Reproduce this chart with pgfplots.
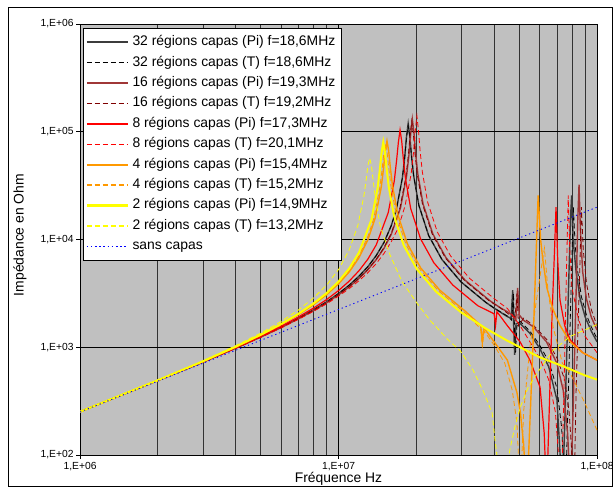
\documentclass[border=0pt]{standalone}
\usepackage{fontspec}
\setmainfont{Liberation Sans}
\usepackage{pgfplots}
\pgfplotsset{compat=1.18}
\definecolor{xlgray}{RGB}{192,192,192}
\definecolor{pi32}{RGB}{60,60,60}
\definecolor{pi16}{RGB}{160,55,55}
\definecolor{xldarkred}{RGB}{128,0,0}
\definecolor{xlred}{RGB}{255,0,0}
\definecolor{xlorange}{RGB}{255,153,0}
\definecolor{xlyellow}{RGB}{255,255,0}
\definecolor{xlblue}{RGB}{0,0,255}
\pgfplotsset{
  s32pi/.style={draw=pi32, line width=1.4bp},
  s32t/.style={draw=black, line width=0.8bp, dash pattern=on 5bp off 3bp},
  s16pi/.style={draw=pi16, line width=1.4bp},
  s16t/.style={draw=xldarkred, line width=0.8bp, dash pattern=on 5bp off 3bp},
  s8pi/.style={draw=xlred, line width=1.2bp},
  s8t/.style={draw=xlred, line width=0.8bp, dash pattern=on 5bp off 3bp},
  s4pi/.style={draw=xlorange, line width=1.4bp},
  s4t/.style={draw=xlorange, line width=0.8bp, dash pattern=on 5bp off 3bp},
  s2pi/.style={draw=xlyellow, line width=2bp},
  s2t/.style={draw=xlyellow, line width=0.8bp, dash pattern=on 5bp off 3bp},
  s0/.style={draw=xlblue, line width=0.9bp, dash pattern=on 1.2bp off 3bp},
}
\begin{document}
\begin{tikzpicture}
\path[use as bounding box] (0,0) rectangle (615bp,490bp);
\draw[black, line width=0.8bp] (8bp,4bp) rectangle (612bp,483bp);
\begin{axis}[
  at={(80bp,35bp)}, anchor=south west,
  scale only axis, width=517bp, height=431bp,
  xmode=log, ymode=log,
  xmin=1e6, xmax=1e8, ymin=1e2, ymax=1e6,
  axis background/.style={fill=xlgray},
  axis line style={black, line width=0.9bp},
  xtick={1e6,1e7,1e8},
  xticklabels={{1,E+06},{1,E+07},{1,E+08}},
  minor xtick={2e6,3e6,4e6,5e6,6e6,7e6,8e6,9e6,2e7,3e7,4e7,5e7,6e7,7e7,8e7,9e7},
  ytick={1e2,1e3,1e4,1e5,1e6},
  yticklabels={{1,E+02},{1,E+03},{1,E+04},{1,E+05},{1,E+06}},
  minor ytick={},
  xmajorgrids, xminorgrids, ymajorgrids,
  major grid style={black, line width=0.8bp},
  minor grid style={black!80, line width=0.8bp},
  tick pos=left, tick align=outside,
  major tick length=4bp, minor tick length=0pt,
  tick style={black, line width=0.8bp},
  ticklabel style={font=\fontsize{10.3bp}{12bp}\selectfont},
  yticklabel style={xshift=1bp},
  xlabel={Fréquence Hz},
  ylabel={Impédance en Ohm},
  label style={font=\fontsize{13.9bp}{16bp}\selectfont},
  xlabel style={at={(axis description cs:0.5,0)}, anchor=base, yshift=-28bp},
  ylabel style={at={(axis description cs:-0.116,0.5104)}, anchor=center},
  legend cell align=left,
  legend image code/.code={\path (0bp,0bp) -- (41bp,0bp); \draw[#1] (8bp,0bp) -- (40bp,0bp);},
  legend style={at={(axis description cs:0.0058,0.9907)}, anchor=north west,
    draw=black, line width=0.6bp, fill=white,
    inner xsep=2.5bp, inner ysep=3.8bp,
    font=\fontsize{13.9bp}{16bp}\selectfont, row sep=0pt,
    nodes={inner xsep=3.5bp, inner ysep=3.7bp, text height=10bp, text depth=3bp}},
]
% 32 regions (Pi)
\addplot[s32pi, forget plot] coordinates {
(1e6,252) (2e6,491) (3e6,731) (4e6,984) (5e6,1250) (6e6,1538) (7e6,1858) (8e6,2223) (9e6,2642) (1e7,3148)
(1.1e7,3767) (1.2e7,4560) (1.3e7,5610) (1.4e7,7112) (1.5e7,9397) (1.6e7,13460) (1.674e7,19010) (1.767e7,37500)
(1.804e7,58210) (1.832e7,89740) (1.86e7,119100) (1.888e7,90160) (1.916e7,59290) (1.953e7,39080) (2.046e7,20700)
(2.232e7,10890) (2.511e7,6531) (2.976e7,4046) (3.72e7,2600) (4e7,2307) (4.5e7,1923) (4.65e7,1862) (4.72e7,3388)
(4.76e7,1585) (4.8e7,851) (4.86e7,1660) (5.04e7,1660) (5.5e7,1349) (6e7,977) (6.5e7,661) (7e7,324) (7.2e7,100)
(7.35e7,40) (7.55e7,316) (7.75e7,3162) (7.9e7,15850) (7.98e7,25700) (8.08e7,10000) (8.3e7,5012) (8.6e7,2818)
(9e7,1905) (9.5e7,1413) (1e8,1122)};
% 32 regions (T)
\addplot[s32t, forget plot] coordinates {
(1e6,252) (2e6,491) (3e6,731) (4e6,984) (5e6,1250) (6e6,1538) (7e6,1858) (8e6,2223) (9e6,2642) (1e7,3148)
(1.1e7,3767) (1.2e7,4560) (1.3e7,5610) (1.4e7,7112) (1.5e7,9397) (1.6e7,13460) (1.674e7,19010) (1.767e7,37500)
(1.804e7,58210) (1.832e7,88000) (1.86e7,114000) (1.888e7,89000) (1.916e7,59290) (1.953e7,39080) (2.046e7,20700)
(2.232e7,10890) (2.511e7,6531) (2.976e7,4046) (3.72e7,2600) (4e7,2307) (4.5e7,1950) (4.68e7,1778) (4.75e7,3162)
(4.8e7,1413) (4.84e7,891) (4.9e7,1585) (5.04e7,1738) (5.5e7,1413) (6e7,1047) (6.5e7,741) (7e7,417) (7.3e7,178)
(7.55e7,40) (7.75e7,398) (7.95e7,3981) (8.1e7,19950) (8.23e7,8913) (8.4e7,5248) (8.7e7,2951) (9.1e7,1995)
(9.5e7,1549) (1e8,1202)};
% 16 regions (Pi)
\addplot[s16pi, forget plot] coordinates {
(1e6,252) (2e6,491) (3e6,731) (4e6,979) (5e6,1242) (6e6,1524) (7e6,1837) (8e6,2188) (9e6,2588) (1e7,3062)
(1.1e7,3631) (1.2e7,4345) (1.3e7,5260) (1.4e7,6516) (1.5e7,8299) (1.6e7,11190) (1.737e7,19680) (1.8335e7,38820)
(1.872e7,60260) (1.901e7,94410) (1.93e7,130600) (1.959e7,97050) (1.988e7,62090) (2.027e7,40460) (2.123e7,21430)
(2.316e7,11270) (2.606e7,6761) (3.088e7,4188) (3.86e7,2692) (4.246e7,2307) (4.5e7,2138) (4.7e7,1995) (4.85e7,1778)
(4.93e7,3548) (5e7,1995) (5.2e7,1778) (5.67e7,1549) (6.38e7,1122) (7e7,708) (7.4e7,398) (7.7e7,158) (7.9e7,40)
(8.1e7,316) (8.3e7,3162) (8.43e7,15850) (8.52e7,32360) (8.62e7,12590) (8.8e7,5012) (9.1e7,2818) (9.5e7,1905)
(1e8,1445)};
% 16 regions (T)
\addplot[s16t, forget plot] coordinates {
(1e6,252) (2e6,491) (3e6,731) (4e6,979) (5e6,1245) (6e6,1528) (7e6,1841) (8e6,2193) (9e6,2594) (1e7,3076)
(1.1e7,3648) (1.2e7,4365) (1.3e7,5297) (1.4e7,6577) (1.5e7,8433) (1.6e7,11460) (1.728e7,19590) (1.824e7,38640)
(1.862e7,59840) (1.891e7,91830) (1.92e7,125600) (1.949e7,94410) (1.978e7,61800) (2.016e7,40270) (2.112e7,21330)
(2.304e7,11220) (2.592e7,6730) (3.072e7,4169) (3.84e7,2679) (4.2e7,2344) (4.6e7,1995) (4.82e7,1905) (4.9e7,3162)
(4.97e7,1585) (5.2e7,1862) (5.7e7,1585) (6.4e7,1175) (7e7,794) (7.5e7,501) (7.8e7,251) (8e7,100) (8.15e7,40)
(8.3e7,398) (8.55e7,3981) (8.7e7,19950) (8.85e7,7943) (9.1e7,3981) (9.5e7,2239) (1e8,1585)};
% 8 regions (Pi)
\addplot[s8pi, forget plot] coordinates {
(1e6,252) (2e6,492) (3e6,735) (4e6,991) (5e6,1265) (6e6,1567) (7e6,1910) (8e6,2307) (9e6,2773) (1e7,3357)
(1.1e7,4111) (1.2e7,5129) (1.3e7,6592) (1.4e7,8933) (1.557e7,17740) (1.6435e7,34990) (1.678e7,54330) (1.704e7,79430)
(1.73e7,103700) (1.756e7,81660) (1.782e7,55340) (1.8165e7,36480) (1.903e7,19320) (2.076e7,10160) (2.336e7,6095)
(2.768e7,3776) (3.46e7,2427) (4e7,2042) (4.05e7,1585) (4.1e7,2138) (4.5e7,1585) (5.04e7,1122) (5.5e7,759)
(6.02e7,427) (6.25e7,158) (6.38e7,40) (6.55e7,316) (6.7e7,1995) (6.85e7,7943) (6.94e7,19950) (7.05e7,6310)
(7.19e7,2754) (7.5e7,1585) (7.87e7,1175) (8.8e7,891) (1e8,759)};
% 8 regions (T)
\addplot[s8t, forget plot] coordinates {
(1e6,252) (2e6,490) (3e6,729) (4e6,977) (5e6,1236) (6e6,1514) (7e6,1816) (8e6,2153) (9e6,2529) (1e7,2979)
(1.1e7,3499) (1.2e7,4140) (1.3e7,4932) (1.4e7,5984) (1.5e7,7430) (1.6e7,9550) (1.7e7,12700) (1.809e7,20510)
(1.91e7,40640) (1.95e7,63680) (1.98e7,100700) (2.01e7,140600) (2.04e7,101200) (2.07e7,65010) (2.11e7,42360)
(2.211e7,22280) (2.412e7,11720) (2.714e7,7031) (3.216e7,4355) (4.02e7,2799) (4.5e7,2291) (5.04e7,1585)
(5.5e7,1122) (6e7,794) (6.5e7,501) (6.9e7,251) (7.1e7,100) (7.28e7,40) (7.45e7,398) (7.6e7,3981) (7.74e7,25700)
(7.85e7,7943) (8e7,3548) (8.5e7,1778) (9e7,1259) (1e8,891)};
% 4 regions (Pi)
\addplot[s4pi, forget plot] coordinates {
(1e6,252) (2e6,493) (3e6,741) (4e6,1005) (5e6,1294) (6e6,1626) (7e6,2009) (8e6,2483) (9e6,3076) (1e7,3873)
(1.1e7,5000) (1.2e7,6776) (1.3e7,10000) (1.386e7,15780) (1.463e7,30550) (1.494e7,46030) (1.517e7,66220)
(1.54e7,82030) (1.563e7,66680) (1.586e7,46880) (1.617e7,31770) (1.694e7,17180) (1.848e7,9099) (2.079e7,5445)
(2.464e7,3388) (3.08e7,2178) (3.31e7,1862) (3.55e7,1585) (3.6e7,1122) (3.65e7,1514) (4.03e7,1096) (4.5e7,759)
(4.9e7,380) (5.05e7,251) (5.2e7,126) (5.35e7,40) (5.5e7,200) (5.65e7,1000) (5.8e7,6310) (5.92e7,25700)
(6.05e7,10000) (6.18e7,6310) (6.4e7,3548) (6.76e7,2239) (7.2e7,1585) (7.87e7,1122) (8.8e7,891) (1e8,759)};
% 4 regions (T)
\addplot[s4t, forget plot] coordinates {
(1e6,252) (2e6,494) (3e6,741) (4e6,1007) (5e6,1300) (6e6,1633) (7e6,2023) (8e6,2506) (9e6,3119) (1e7,3945)
(1.1e7,5129) (1.2e7,7063) (1.3e7,10690) (1.368e7,15560) (1.444e7,30200) (1.474e7,44670) (1.497e7,62520)
(1.52e7,76380) (1.543e7,62950) (1.566e7,45190) (1.596e7,31120) (1.672e7,16980) (1.824e7,8995) (2.052e7,5383)
(2.432e7,3342) (3.04e7,2148) (3.3e7,1778) (3.55e7,1479) (3.6e7,1000) (3.66e7,1413) (4e7,1047) (4.4e7,708)
(4.7e7,398) (4.9e7,200) (5.05e7,40) (5.2e7,251) (5.5e7,1000) (5.8e7,2512) (6.1e7,5623) (6.26e7,8318)
(6.45e7,3548) (6.76e7,1549) (7.35e7,708) (7.87e7,575) (8.98e7,302) (1e8,170)};
% 2 regions (Pi)
\addplot[s2pi, forget plot] coordinates {
(1e6,252) (2e6,494) (3e6,743) (4e6,1012) (5e6,1306) (6e6,1644) (7e6,2046) (8e6,2547) (9e6,3184) (1e7,4074)
(1.1e7,5383) (1.2e7,7568) (1.341e7,15280) (1.4155e7,29650) (1.445e7,44570) (1.468e7,64270) (1.49e7,80170)
(1.512e7,64570) (1.535e7,45390) (1.5645e7,30760) (1.639e7,16630) (1.788e7,8810) (2.012e7,5284) (2.384e7,3281)
(2.98e7,2109) (3.725e7,1486) (4.47e7,1159) (5.96e7,813) (7.45e7,661) (8.94e7,550) (1e8,501)};
% 2 regions (T)
\addplot[s2t, forget plot] coordinates {
(1e6,253) (2e6,497) (3e6,752) (4e6,1033) (5e6,1352) (6e6,1734) (7e6,2218) (8e6,2864) (9e6,3784) (1e7,5260)
(1.1e7,8017) (1.188e7,13490) (1.254e7,25410) (1.28e7,36560) (1.3e7,48980) (1.32e7,56890) (1.34e7,48980)
(1.36e7,36310) (1.386e7,25120) (1.452e7,13180) (1.58e7,7244) (1.76e7,4074) (2.01e7,2570) (2.26e7,1778)
(2.65e7,1175) (2.95e7,933) (3.31e7,617) (3.62e7,398) (3.93e7,245) (4.03e7,138) (4.1e7,100) (4.33e7,32)
(4.6e7,112) (4.8e7,178) (5.04e7,275) (5.4e7,417) (5.86e7,575) (6.76e7,933) (7.87e7,1259) (1e8,1622)};
% sans capas
\addplot[s0, forget plot] coordinates {
(1e6,251) (1e7,2239) (1e8,19950)};
% legend
\addlegendimage{s32pi, line width=2bp}
\addlegendentry{32 régions capas (Pi) f=18,6MHz}
\addlegendimage{s32t, line width=1.1bp}
\addlegendentry{32 régions capas (T) f=18,6MHz}
\addlegendimage{s16pi, line width=2bp}
\addlegendentry{16 régions capas (Pi) f=19,3MHz}
\addlegendimage{s16t, line width=1.2bp}
\addlegendentry{16 régions capas (T) f=19,2MHz}
\addlegendimage{s8pi, line width=1.8bp}
\addlegendentry{8 régions capas (Pi) f=17,3MHz}
\addlegendimage{s8t, line width=1.3bp}
\addlegendentry{8 régions capas (T) f=20,1MHz}
\addlegendimage{s4pi, line width=1.8bp}
\addlegendentry{4 régions capas (Pi) f=15,4MHz}
\addlegendimage{s4t, line width=1.4bp}
\addlegendentry{4 régions capas (T) f=15,2MHz}
\addlegendimage{s2pi, line width=2.2bp}
\addlegendentry{2 régions capas (Pi) f=14,9MHz}
\addlegendimage{s2t, line width=1.4bp}
\addlegendentry{2 régions capas (T) f=13,2MHz}
\addlegendimage{s0, line width=1.1bp}
\addlegendentry{sans capas}
\end{axis}
\end{tikzpicture}
\end{document}
